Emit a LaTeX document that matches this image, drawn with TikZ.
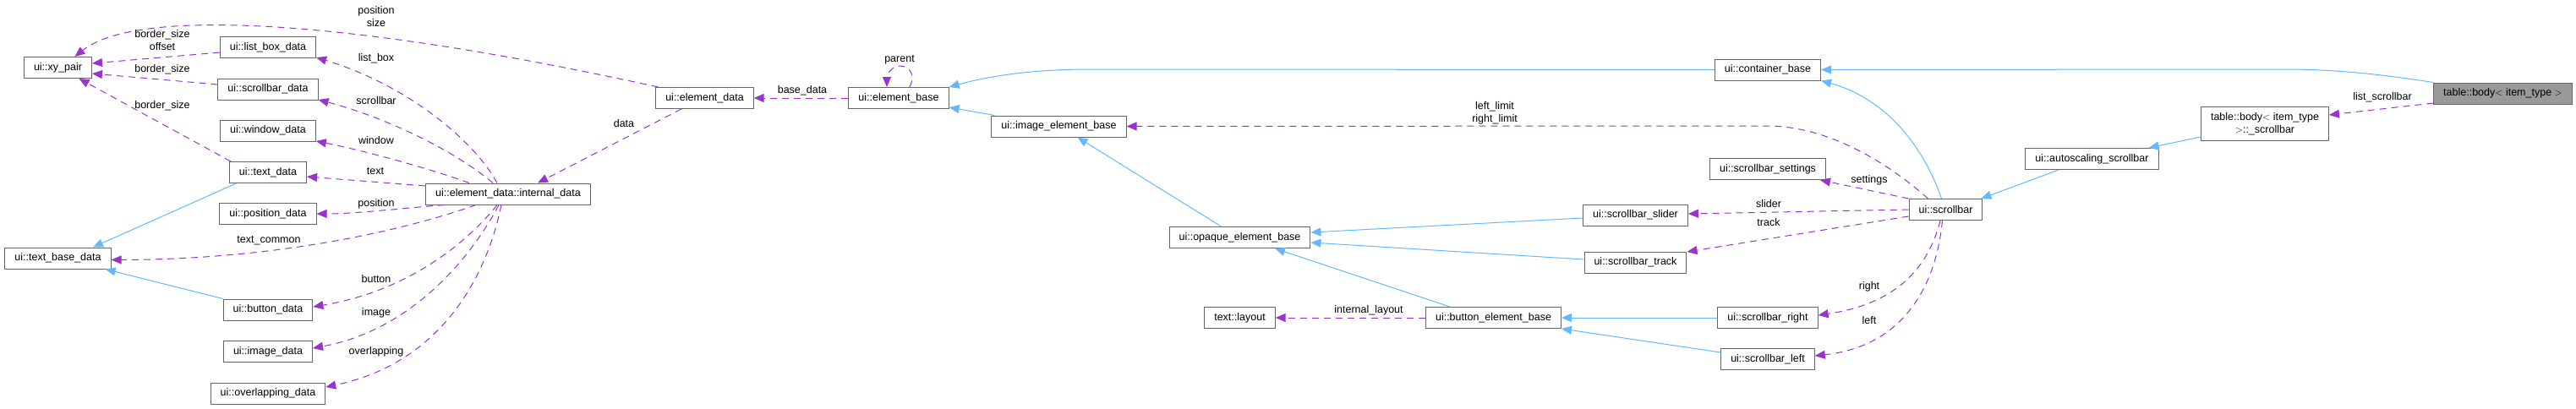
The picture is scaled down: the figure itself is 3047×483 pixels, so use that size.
\documentclass[tikz,border=0pt]{standalone}
\usepackage{fontspec}
\setmainfont{Liberation Sans}
\usetikzlibrary{arrows.meta}

\definecolor{inhblue}{HTML}{63B8FF}
\definecolor{usepurple}{HTML}{9A32CD}
\definecolor{boxgray}{HTML}{666666}
\definecolor{rootfill}{HTML}{999999}

\begin{document}
\begin{tikzpicture}[x=1pt, y=-1pt,
  cls/.style={draw=boxgray, line width=1pt, fill=white, inner xsep=11.5pt,
              inner ysep=2pt, minimum height=25pt, align=center,
              font=\fontsize{12.5}{15}\selectfont},
  root/.style={cls, fill=rootfill},
  lbl/.style={inner sep=0pt, align=center, font=\fontsize{12.5}{15}\selectfont},
  inh/.style={-{Triangle[length=12pt,width=10pt]}, color=inhblue, line width=1pt},
  usage/.style={-{Triangle[length=12pt,width=10pt]}, color=usepurple, line width=1pt,
                dash pattern=on 8pt off 6pt}]
\useasboundingbox (0,0) rectangle (3047,483);

% data structs on the left
\node[cls] (xy) at (68.5,80) {ui::xy\_pair};
\node[cls] (tbd) at (68.5,305.5) {ui::text\_base\_data};
\node[cls] (lbd) at (317,56) {ui::list\_box\_data};
\node[cls] (sbd) at (317,105.5) {ui::scrollbar\_data};
\node[cls] (wd) at (317,154.5) {ui::window\_data};
\node[cls] (td) at (317,204) {ui::text\_data};
\node[cls] (pd) at (317,253) {ui::position\_data};
\node[cls] (bd) at (317,366.5) {ui::button\_data};
\node[cls] (imd) at (317,416) {ui::image\_data};
\node[cls] (od) at (317,465.5) {ui::overlapping\_data};
\node[cls] (idata) at (601,229.5) {ui::element\_data::internal\_data};
\node[cls] (edata) at (833.5,116) {ui::element\_data};

% element bases
\node[cls] (ebase) at (1063,116) {ui::element\_base};
\node[cls] (iebase) at (1252.5,149.5) {ui::image\_element\_base};
\node[cls] (oebase) at (1466.5,281) {ui::opaque\_element\_base};
\node[cls] (layout) at (1466.5,376) {text::layout};
\node[cls] (bebase) at (1766.5,376) {ui::button\_element\_base};

% scrollbar parts
\node[cls] (cbase) at (2091,82.5) {ui::container\_base};
\node[cls] (ssettings) at (2091,200) {ui::scrollbar\_settings};
\node[cls] (sslider) at (1934.5,254.5) {ui::scrollbar\_slider};
\node[cls] (strack) at (1934.5,310.5) {ui::scrollbar\_track};
\node[cls] (sright) at (2091,376) {ui::scrollbar\_right};
\node[cls] (sleft) at (2091,425) {ui::scrollbar\_left};
\node[cls] (sbar) at (2301.5,248) {ui::scrollbar};
\node[cls] (asbar) at (2474.5,188) {ui::autoscaling\_scrollbar};
\node[cls, minimum height=40pt] (bscroll) at (2679,146.5) {table::body$<$ item\_type\\$>$::\_scrollbar};
\node[root] (body) at (2960.5,110.5) {table::body$<$ item\_type $>$};

% inheritance
\draw[inh] (body.north west) .. controls (2810,87) and (2760,82) .. (2700,82) -- (cbase.east);
\draw[inh] (cbase.west) -- (1290,82) .. controls (1220,82) and (1170,90) .. (ebase.north east);
\draw[inh] ([xshift=4pt]iebase.north west) -- ([yshift=-11pt]ebase.east);
\draw[inh] ([xshift=-22pt]oebase.north) -- ([xshift=22pt]iebase.south);
\draw[inh] ([yshift=-3.5pt]sslider.west) -- ([yshift=6pt]oebase.east);
\draw[inh] ([yshift=3.5pt]strack.west) -- ([yshift=-6pt]oebase.east);
\draw[inh] ([xshift=-51.5pt]bebase.north) -- ([xshift=41.5pt]oebase.south);
\draw[inh] (sright.west) -- (bebase.east);
\draw[inh] ([yshift=8pt]sleft.west) -- ([yshift=-13pt]bebase.east);
\draw[inh] ([xshift=-5pt]sbar.north) .. controls (2272,165) and (2225,115) .. (cbase.south east);
\draw[inh] ([xshift=-39.5pt]asbar.south) -- ([xshift=-2pt]sbar.north east);
\draw[inh] ([yshift=-15.5pt]bscroll.west) -- ([xshift=-12pt]asbar.north east);
\draw[inh] ([xshift=8.5pt]td.south west) -- ([xshift=41.5pt]tbd.north);
\draw[inh] (bd.north west) -- ([xshift=-7pt]tbd.south east);

% usage
\draw[usage] ([xshift=-55pt]edata.north) .. controls (400,20) and (160,10) .. ([xshift=20pt]xy.north);
\draw[usage] ([yshift=-6pt]lbd.west) -- ([yshift=5pt]xy.east);
\draw[usage] ([yshift=5.5pt]sbd.west) -- ([yshift=-7pt]xy.east);
\draw[usage] ([xshift=-44pt]td.north) -- ([xshift=25pt]xy.south);
\draw[usage] ([xshift=-13pt]idata.north) .. controls (560,165) and (480,100) .. ([yshift=-12pt]lbd.east);
\draw[usage] ([xshift=-18pt]idata.north) .. controls (540,180) and (460,140) .. ([yshift=-12.5pt]sbd.east);
\draw[usage] ([xshift=-46pt]idata.north) .. controls (510,200) and (430,178) .. ([yshift=-12.5pt]wd.east);
\draw[usage] ([yshift=9.5pt]idata.west) -- ([yshift=-5pt]td.east);
\draw[usage] ([xshift=-75pt]idata.south) .. controls (480,246) and (420,253) .. (pd.east);
\draw[usage] ([xshift=-38pt]idata.south) .. controls (480,272) and (330,307) .. ([yshift=-2pt]tbd.east);
\draw[usage] ([xshift=-13pt]idata.south) .. controls (550,290) and (480,345) .. ([yshift=3.5pt]bd.east);
\draw[usage] ([xshift=-11pt]idata.south) .. controls (560,300) and (490,390) .. ([yshift=4pt]imd.east);
\draw[usage] ([xshift=-8pt]idata.south) .. controls (575,330) and (520,430) .. ([yshift=7.5pt]od.east);
\draw[usage] ([xshift=-27.5pt]edata.south) -- ([xshift=35pt]idata.north);
\draw[usage] (ebase.west) -- (edata.east);
\draw[usage] ([xshift=13pt]ebase.north) .. controls (1084,86) and (1074,78) .. (1064,78)
  .. controls (1055,78) and (1049,88) .. ([xshift=-14pt]ebase.north);
\draw[usage] ([xshift=-21pt]sbar.north) .. controls (2230,190) and (2160,149) .. (2090,149) -- (iebase.east);
\draw[usage] (sbar.north west) -- ([xshift=-7pt]ssettings.south east);
\draw[usage] (sbar.west) -- ([yshift=1.5pt]sslider.east);
\draw[usage] ([yshift=-8pt]sbar.west) -- ([yshift=12.5pt]strack.east);
\draw[usage] ([xshift=-6.5pt]sbar.south) .. controls (2280,320) and (2240,360) .. ([yshift=3pt]sright.east);
\draw[usage] ([xshift=-4pt]sbar.south) .. controls (2290,340) and (2250,410) .. ([yshift=4pt]sleft.east);
\draw[usage] (bebase.west) -- (layout.east);
\draw[usage] ([yshift=-11.5pt]body.west) -- ([yshift=10.5pt]bscroll.east);

% edge labels
\node[lbl] (lpossize) at (445,20) {position\\size};
\node[lbl] (lbsoff) at (192,48) {border\_size\\offset};
\node[lbl] (lbs1) at (192,82) {border\_size};
\node[lbl] (lbs2) at (192,125) {border\_size};
\node[lbl] (llistbox) at (445,69) {list\_box};
\node[lbl] (lscroll) at (445,119) {scrollbar};
\node[lbl] (lwindow) at (445,166) {window};
\node[lbl] (ltext) at (444,203) {text};
\node[lbl] (lpos) at (445,241) {position};
\node[lbl] (ltextc) at (318,285) {text\_common};
\node[lbl] (lbutton) at (445,330) {button};
\node[lbl] (limage) at (445,370) {image};
\node[lbl] (loverl) at (445,416) {overlapping};
\node[lbl] (ldata) at (738,146) {data};
\node[lbl] (lbase) at (949,107) {base\_data};
\node[lbl] (lparent) at (1064,71) {parent};
\node[lbl] (llimit) at (1768,133.5) {left\_limit\\right\_limit};
\node[lbl] (llayout) at (1619,367) {internal\_layout};
\node[lbl] (lsettings) at (2211,213) {settings};
\node[lbl] (lslider) at (2092,241) {slider};
\node[lbl] (ltrack) at (2092,263) {track};
\node[lbl] (lright) at (2211,339) {right};
\node[lbl] (lleft) at (2211,379) {left};
\node[lbl] (llistsb) at (2818,115) {list\_scrollbar};
\end{tikzpicture}
\end{document}
